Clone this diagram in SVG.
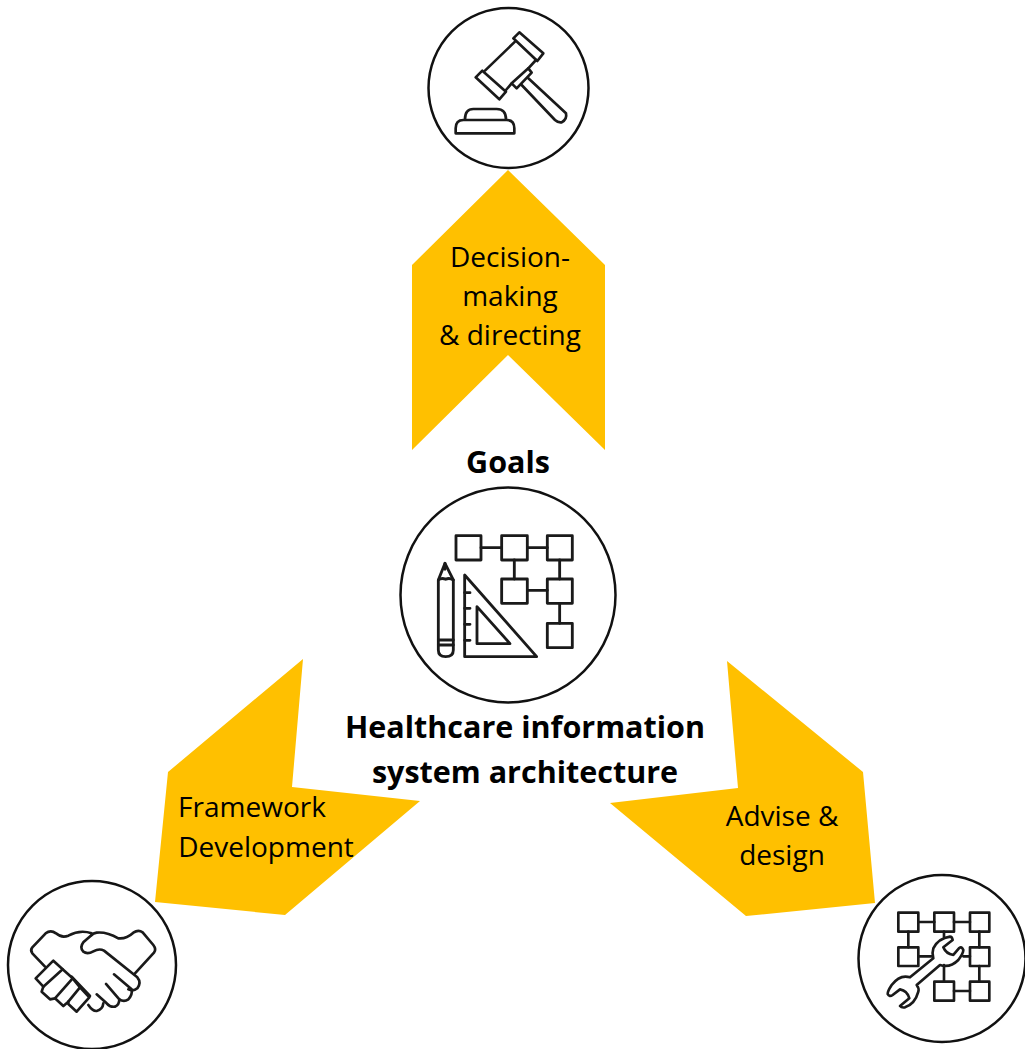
<svg xmlns="http://www.w3.org/2000/svg" width="1025" height="1049" viewBox="0 0 1025 1049">
<style>
text{font-family:"Open Sans","Noto Sans","Liberation Sans",sans-serif;fill:#000;text-anchor:middle}
.l{font-size:28px}
.b{font-size:30.500px;font-weight:700}
.arrow{fill:#FFC000;stroke:none}
.ring{fill:#fff;stroke:#111;stroke-width:2.500}
.ic{fill:none;stroke:#1a1a1a;stroke-width:8;stroke-linejoin:round;stroke-linecap:round}
</style>
<rect width="1025" height="1049" fill="#fff"/>
<g id="connectors">
<polygon class="arrow" points="508,170 605,265 605,450 508,355 412,450 412,265"/>
<polygon class="arrow" points="303,659 292,787 420,801 285,915 155,902 168,772"/>
<polygon class="arrow" points="727,661 738,788 610,803 746,916 875,903 863,772"/>
</g>
<g id="node-top">
<circle class="ring" cx="508.500" cy="88" r="80"/>
<g class="ic" transform="translate(420,0) scale(.3333)">
<path d="M280,115 L298,97 L370,160 L352,183 Z"/>
<path d="M167,232 L187,212 L258,275 L238,298 Z"/>
<path d="M195,212 L285,125 M258,270 L275,250 M325,205 L348,180"/>
<path d="M275,250 L325,205 L335,218 L290,265 Z"/>
<path d="M325,235 L438,340 Q442,358 425,367 Q415,369 405,360 L305,255"/>
<path d="M135,358 Q135,327 160,327 L230,327 Q258,327 258,358"/>
<path d="M107,400 L107,385 Q107,360 130,360 L260,360 Q283,360 283,385 L283,400 Z"/>
</g>
</g>
<g id="node-center">
<circle class="ring" cx="508" cy="595" r="107.500"/>
<g class="ic" transform="translate(395,480) scale(.3333)" style="stroke-width:8.500">
<rect x="183" y="167" width="75" height="73"/>
<rect x="320" y="167" width="77" height="73"/>
<rect x="457" y="167" width="75" height="73"/>
<rect x="320" y="297" width="77" height="73"/>
<rect x="457" y="297" width="75" height="73"/>
<rect x="457" y="430" width="75" height="73"/>
<path d="M258,203 H320 M397,203 H457 M358,240 V297 M494,240 V297 M397,331 H457 M494,370 V430"/>
<path d="M130,300 L150,250 L175,300 V510 Q175,530 152,530 Q130,530 130,510 Z"/>
<path d="M130,300 Q140,292 152,298 Q163,292 175,300 M130,480 H175 M130,495 H175 M150,250 L150,268"/>
<path d="M209,285 L209,530 L425,530 Z"/>
<path d="M246,380 L246,491 L345,491 Z"/>
<path d="M209,338 H225 M209,385 H225 M209,433 H225 M209,481 H225"/>
</g>
</g>
<g id="node-left">
<circle class="ring" cx="92" cy="965" r="84"/>
<g class="ic" transform="translate(0,870) scale(.3333)">
<path d="M135,290 L97,250 Q90,240 97,232 L137,190 Q152,178 168,190 Q185,205 205,197 Q240,178 275,190"/>
<path d="M275,195 L250,217 Q238,232 250,245 Q262,254 280,244 Q298,234 312,242 L412,322 Q425,338 412,355 Q400,365 385,358"/>
<path d="M405,310 L462,248 Q470,238 460,225 L428,187 Q415,178 400,188 Q378,208 355,205 Q320,185 290,188 Q280,190 275,195"/>
<path d="M342,313 L395,358 Q398,375 385,388 Q372,397 358,388 L318,342"/>
<path d="M358,388 Q358,405 345,410 Q330,412 320,400 L290,373"/>
<path d="M310,400 Q308,418 290,423 Q278,424 265,405"/>
<path d="M215,320 L270,378"/>
<path d="M160,272 L107,325 L130,350 L188,298 Z"/>
<path d="M188,298 L218,325 L165,385 L150,388 L125,365 L130,350"/>
<path d="M218,325 L240,352 L205,395 L190,408 L165,385"/>
<path d="M240,352 L268,382 L230,425 L205,402 L205,395"/>
</g>
</g>
<g id="node-right">
<circle class="ring" cx="942" cy="958.500" r="83.500"/>
<g class="ic" transform="translate(850,870) scale(.3333)">
<rect x="145" y="128" width="60" height="57"/>
<rect x="253" y="128" width="59" height="57"/>
<rect x="360" y="128" width="58" height="57"/>
<rect x="145" y="232" width="60" height="56"/>
<rect x="360" y="232" width="58" height="56"/>
<rect x="253" y="335" width="59" height="57"/>
<rect x="360" y="335" width="58" height="57"/>
<path d="M205,156 H253 M312,156 H360 M175,185 V232 M388,185 V232 M205,259 H245 M340,259 H360 M388,288 V335 M282,285 V335 M312,363 H360 M282,185 V200"/>
<path d="M300,200 Q265,205 250,235 Q245,250 250,265 L180,322 Q150,312 125,345 Q112,365 113,372 Q118,382 128,375 L150,358 Q172,362 178,385 L150,408 Q155,414 165,412 Q195,402 205,365 Q208,355 200,345 L270,285 Q300,295 325,270 Q340,250 340,240 Q335,228 328,234 L310,255 Q288,252 280,232 L308,210 Q306,200 300,200 Z"/>
</g>
</g>
<g id="labels">
<text class="l" x="510" y="267">Decision-</text>
<text class="l" x="510" y="306">making</text>
<text class="l" x="510" y="345">&amp; directing</text>
<text class="b" x="508" y="473">Goals</text>
<text class="b" x="525" y="738">Healthcare information</text>
<text class="b" x="525" y="783">system architecture</text>
<text class="l" x="252" y="817">Framework</text>
<text class="l" x="266" y="857">Development</text>
<text class="l" x="782" y="826">Advise &amp;</text>
<text class="l" x="782" y="865">design</text>
</g>
</svg>
